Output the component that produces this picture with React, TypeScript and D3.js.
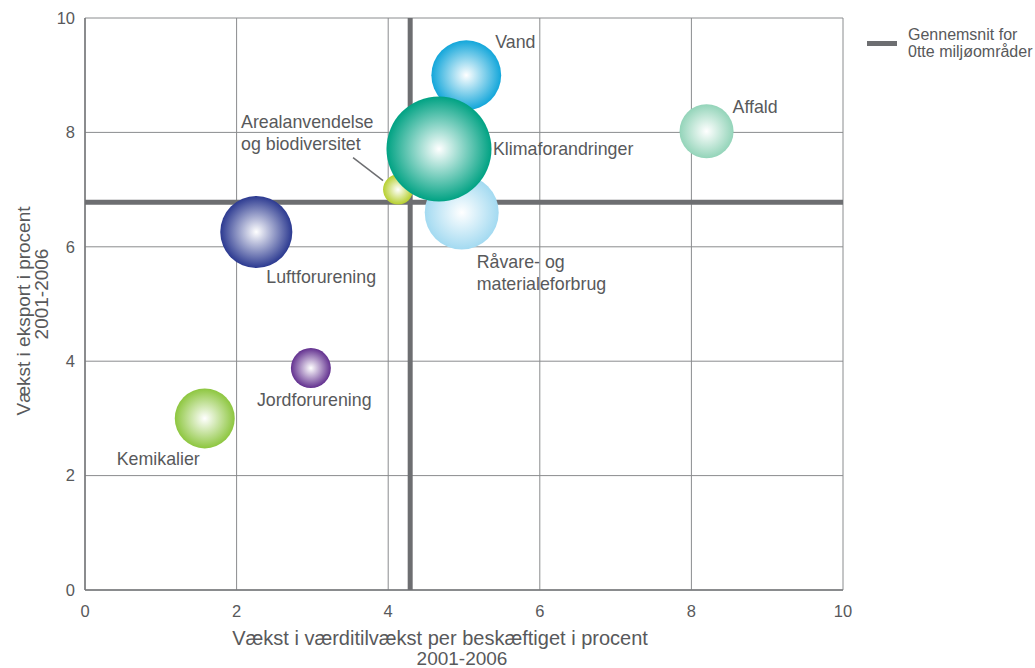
import React from "react";
import * as d3 from "d3";

const names = ["Arealanvendelse og biodiversitet", "Råvare- og materialeforbrug", "Vand", "Klimaforandringer", "Affald", "Luftforurening", "Jordforurening", "Kemikalier"];
const labelLines = [["Arealanvendelse", "og biodiversitet"], ["Råvare- og", "materialeforbrug"], ["Vand"], ["Klimaforandringer"], ["Affald"], ["Luftforurening"], ["Jordforurening"], ["Kemikalier"]];
const xValues = [4.13, 4.97, 5.03, 4.67, 8.2, 2.26, 2.98, 1.58];
const yValues = [7.0, 6.6, 9.0, 7.71, 8.02, 6.26, 3.88, 3.0];
const sizes = [2.25, 13.7, 12.2, 27.6, 7.3, 13.0, 4.0, 9.0];
const avgX = 4.29;
const avgY = 6.78;
const ticks = [0, 2, 4, 6, 8, 10];
const xTitle = ["Vækst i værditilvækst per beskæftiget i procent", "2001-2006"];
const yTitle = ["Vækst i eksport i procent", "2001-2006"];
const legendLines = ["Gennemsnit for", "0tte miljøområder"];

// styling / layout (not data)
const colors = ["#b6cf2e", "#a3daf1", "#12a6da", "#00a283", "#93d4b9", "#2b3990", "#62308f", "#8dc63f"];
const labelOffsets = [
  [-157, -62], [15, 56], [29, -27], [54, 6], [26, -18], [10, 51], [-54, 38], [-88, 47],
];

export default function App() {
  const x = d3.scaleLinear().domain([0, 10]).range([85, 843]);
  const y = d3.scaleLinear().domain([0, 10]).range([590, 18]);
  const r = d3.scaleSqrt().domain([0, d3.max(sizes) as number]).range([0, 52.5]);
  const textColor = "#58595b";
  const gridColor = "#8a8c8e";
  const font = "'Liberation Sans', Arial, sans-serif";

  const order = [0, 1, 2, 3, 4, 5, 6, 7];
  const ax = x(xValues[0]);
  const ay = y(yValues[0]);

  return (
    <svg width={1035} height={668} style={{ position: "absolute", left: 0, top: 0, background: "#fff" }} fontFamily={font}>
      <defs>
        {colors.map((c, i) => (
          <radialGradient key={i} id={`g${i}`} cx="50%" cy="50%" r="50%">
            <stop offset="0%" stopColor="#ffffff" />
            <stop offset="100%" stopColor={c} />
          </radialGradient>
        ))}
      </defs>
      {ticks.map((t) => (
        <line key={"gx" + t} x1={x(t)} x2={x(t)} y1={y(0)} y2={y(10)} stroke={gridColor} strokeWidth={1} />
      ))}
      {ticks.map((t) => (
        <line key={"gy" + t} x1={x(0)} x2={x(10)} y1={y(t)} y2={y(t)} stroke={gridColor} strokeWidth={1} />
      ))}
      <line x1={x(0)} x2={x(0)} y1={y(0)} y2={y(10)} stroke="#77787b" strokeWidth={1.5} />
      <line x1={x(0)} x2={x(10)} y1={y(0)} y2={y(0)} stroke="#77787b" strokeWidth={1.5} />
      {ticks.map((t) => (
        <text key={"tx" + t} x={x(t)} y={617} textAnchor="middle" fontSize={16.5} fill={textColor}>{t}</text>
      ))}
      {ticks.map((t) => (
        <text key={"ty" + t} x={75} y={y(t)} dy="0.35em" textAnchor="end" fontSize={16.5} fill={textColor}>{t}</text>
      ))}
      <line x1={x(avgX)} x2={x(avgX)} y1={y(0)} y2={y(10)} stroke="#6d6e71" strokeWidth={5} />
      <line x1={x(0)} x2={x(10)} y1={y(avgY)} y2={y(avgY)} stroke="#6d6e71" strokeWidth={5} />
      <line x1={ax - 15} x2={ax - 45} y1={ay - 9} y2={ay - 32} stroke="#6d6e71" strokeWidth={1.5} />
      {order.map((i) => (
        <circle key={"c" + i} cx={x(xValues[i])} cy={y(yValues[i])} r={r(sizes[i])} fill={`url(#g${i})`} />
      ))}
      {names.map((n, i) => (
        <text key={"l" + i} x={x(xValues[i]) + labelOffsets[i][0]} y={y(yValues[i]) + labelOffsets[i][1]} fontSize={17.8} fill={textColor}>
          {labelLines[i].map((ln, j) => (
            <tspan key={j} x={x(xValues[i]) + labelOffsets[i][0]} dy={j === 0 ? 0 : 22}>{ln}</tspan>
          ))}
        </text>
      ))}
      <text x={440} y={645} textAnchor="middle" fontSize={20} fill={textColor}>{xTitle[0]}</text>
      <text x={462} y={665} textAnchor="middle" fontSize={19} fill={textColor}>{xTitle[1]}</text>
      <text transform="translate(30,311) rotate(-90)" textAnchor="middle" fontSize={19} fill={textColor}>{yTitle[0]}</text>
      <text transform="translate(48,294) rotate(-90)" textAnchor="middle" fontSize={19} fill={textColor}>{yTitle[1]}</text>
      <line x1={867} x2={897} y1={43.5} y2={43.5} stroke="#6d6e71" strokeWidth={5} />
      <text x={908} y={40} fontSize={16} fill={textColor}>{legendLines[0]}</text>
      <text x={908} y={57} fontSize={16} fill={textColor}>{legendLines[1]}</text>
    </svg>
  );
}
